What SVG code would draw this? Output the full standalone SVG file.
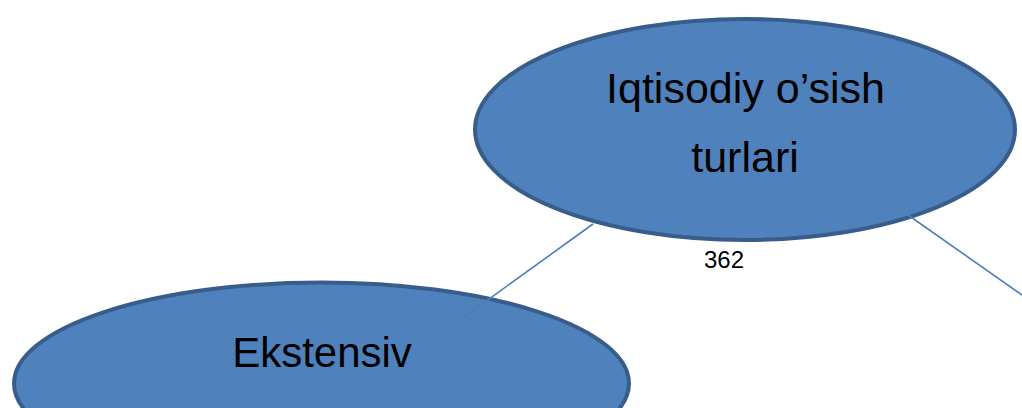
<svg xmlns="http://www.w3.org/2000/svg" width="1022" height="408" viewBox="0 0 1022 408">
  <style>
    .node { fill: #4F81BD; stroke: #385D8A; stroke-width: 4; }
    .label { font-family: "Liberation Sans", Arial, sans-serif; fill: #000000; text-anchor: middle; }
    .link { stroke: #4A7EBB; stroke-width: 1.6; fill: none; }
  </style>
  <rect width="1022" height="408" fill="#FFFFFF"/>

  <!-- root node -->
  <g id="node-root">
    <ellipse class="node" cx="745" cy="129.5" rx="270" ry="110.5"/>
    <text class="label" x="745.5" y="103" font-size="43">Iqtisodiy o’sish</text>
    <text class="label" x="745" y="172" font-size="43">turlari</text>
  </g>

  <!-- child node -->
  <g id="node-ekstensiv">
    <ellipse class="node" cx="321.5" cy="383.5" rx="307.5" ry="101"/>
    <text class="label" x="322" y="367" font-size="42">Ekstensiv</text>
  </g>

  <!-- page number -->
  <g id="page-number">
    <text class="label" x="724" y="268" font-size="24">362</text>
  </g>

  <!-- connectors -->
  <g id="connectors">
    <line class="link" x1="593" y1="224" x2="453" y2="325"/>
    <line class="link" x1="908" y1="215" x2="1030" y2="300.6"/>
  </g>
</svg>
